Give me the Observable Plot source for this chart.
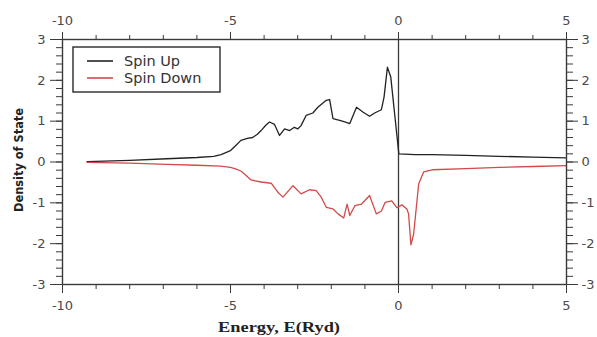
<!DOCTYPE html>
<html>
<head>
<meta charset="utf-8">
<script src="https://cdn.jsdelivr.net/npm/d3@7"></script>
<script src="https://cdn.jsdelivr.net/npm/@observablehq/plot@0.6"></script>
<style>
  html, body { margin: 0; padding: 0; background: #fff; }
  #chart svg { display: block; }
</style>
</head>
<body>
<div id="chart"></div>
<script>
// ---- data ----
const energyUp = [-9.27, -8.0, -6.9, -6.0, -5.5, -5.28, -5.0, -4.85, -4.69, -4.5, -4.34, -4.2, -4.09, -3.95, -3.84, -3.69, -3.54, -3.39, -3.24, -3.10, -3.00, -2.90, -2.75, -2.55, -2.40, -2.15, -2.05, -1.95, -1.75, -1.60, -1.45, -1.25, -1.05, -0.86, -0.71, -0.51, -0.43, -0.33, -0.23, 0.01, 0.5, 1.0, 2.0, 3.0, 4.0, 5.0];
const dosUp    = [0.01, 0.04, 0.08, 0.11, 0.14, 0.18, 0.28, 0.40, 0.53, 0.58, 0.60, 0.68, 0.77, 0.90, 0.98, 0.92, 0.65, 0.81, 0.77, 0.85, 0.81, 0.89, 1.14, 1.20, 1.34, 1.51, 1.53, 1.06, 1.02, 0.98, 0.94, 1.34, 1.22, 1.12, 1.20, 1.28, 1.59, 2.32, 2.08, 0.20, 0.18, 0.18, 0.16, 0.14, 0.12, 0.10];

const energyDown = [-9.27, -8.0, -6.9, -6.0, -5.3, -5.0, -4.85, -4.69, -4.55, -4.39, -4.09, -3.79, -3.59, -3.44, -3.14, -2.90, -2.65, -2.45, -2.30, -2.15, -1.95, -1.80, -1.63, -1.53, -1.45, -1.30, -1.10, -0.86, -0.66, -0.51, -0.40, -0.20, -0.05, 0.10, 0.25, 0.30, 0.37, 0.45, 0.60, 0.75, 1.0, 2.0, 3.0, 4.0, 5.0];
const dosDown    = [-0.01, -0.03, -0.06, -0.08, -0.10, -0.13, -0.17, -0.22, -0.32, -0.44, -0.49, -0.52, -0.74, -0.86, -0.58, -0.78, -0.68, -0.70, -0.86, -1.11, -1.15, -1.27, -1.37, -1.03, -1.31, -1.07, -1.03, -0.82, -1.27, -1.20, -0.99, -0.95, -1.12, -1.05, -1.15, -1.27, -2.03, -1.77, -0.54, -0.24, -0.19, -0.16, -0.13, -0.11, -0.09];

const seriesNames = ["Spin Up", "Spin Down"];
const seriesColors = ["#222222", "#d24a4a"];

const xMajorTicks = [-10, -5, 0, 5];
const xMinorTicks = [-10, -9, -8, -7, -6, -5, -4, -3, -2, -1, 0, 1, 2, 3, 4, 5];
const yMajorTicks = [-3, -2, -1, 0, 1, 2, 3];
const yMinorTicks = d3.range(-30, 31, 2).map(d => d / 10);

const xTitle = "Energy, E(Ryd)";
const yTitle = "Density of State";

// ---- table ----
const rows = [
  ...energyUp.map((e, i) => ({series: seriesNames[0], energy: e, dos: dosUp[i]})),
  ...energyDown.map((e, i) => ({series: seriesNames[1], energy: e, dos: dosDown[i]}))
];

const fmt = d => String(d);
const blank = () => "";
const axisColor = "#3a3a3a";

const chart = Plot.plot({
  width: 597,
  height: 337,
  marginLeft: 62,
  marginRight: 31,
  marginTop: 39,
  marginBottom: 53,
  style: {fontFamily: "DejaVu Sans", fontSize: "13px", color: "#4a4a4a", background: "#fff"},
  x: {domain: [-10, 5]},
  y: {domain: [-3, 3]},
  color: {domain: seriesNames, range: seriesColors},
  marks: [
    Plot.ruleX([0], {stroke: axisColor, strokeWidth: 1.3}),
    Plot.line(rows, {x: "energy", y: "dos", z: "series", stroke: "series", strokeWidth: 1.3}),
    // minor ticks
    Plot.axisX({anchor: "bottom", ticks: xMinorTicks, tickSize: 5, tickFormat: blank, label: null, stroke: axisColor}),
    Plot.axisX({anchor: "top", ticks: xMinorTicks, tickSize: 5, tickFormat: blank, label: null, stroke: axisColor}),
    Plot.axisY({anchor: "left", ticks: yMinorTicks, tickSize: 6, tickFormat: blank, label: null, stroke: axisColor}),
    Plot.axisY({anchor: "right", ticks: yMinorTicks, tickSize: 6, tickFormat: blank, label: null, stroke: axisColor}),
    // major ticks + labels
    Plot.axisX({anchor: "bottom", ticks: xMajorTicks, tickSize: 9, tickPadding: 7, tickFormat: fmt, label: null, stroke: axisColor, letterSpacing: "1.5px"}),
    Plot.axisX({anchor: "top", ticks: xMajorTicks, tickSize: 8, tickPadding: 7, tickFormat: fmt, label: null, stroke: axisColor, letterSpacing: "1.5px"}),
    Plot.axisY({anchor: "left", ticks: yMajorTicks, tickSize: 12, tickPadding: 5, tickFormat: fmt, label: null, stroke: axisColor, letterSpacing: "1.5px"}),
    Plot.axisY({anchor: "right", ticks: yMajorTicks, tickSize: 11, tickPadding: 4, tickFormat: fmt, label: null, stroke: axisColor, letterSpacing: "1.5px"}),
    Plot.frame({stroke: axisColor, strokeWidth: 1.4})
  ]
});

document.getElementById("chart").appendChild(chart);

// ---- titles & legend (drawn into the same svg) ----
const svg = d3.select(chart);

svg.append("text")
  .attr("x", 218).attr("y", 332)
  .attr("text-anchor", "start")
  .attr("textLength", 122).attr("lengthAdjust", "spacingAndGlyphs")
  .attr("font-family", "Liberation Serif")
  .attr("font-weight", "bold")
  .attr("font-size", 15)
  .attr("fill", "#222")
  .text(xTitle);

svg.append("text")
  .attr("transform", "translate(23,212) rotate(-90)")
  .attr("text-anchor", "start")
  .attr("textLength", 104).attr("lengthAdjust", "spacingAndGlyphs")
  .attr("font-family", "DejaVu Sans")
  .attr("font-weight", "bold")
  .attr("font-size", 13)
  .attr("fill", "#222")
  .text(yTitle);

const lg = svg.append("g").attr("transform", "translate(73,47)");
lg.append("rect").attr("width", 147).attr("height", 45)
  .attr("fill", "#fff").attr("stroke", "#2a2a2a").attr("stroke-width", 1.4);
seriesNames.forEach((name, i) => {
  const yy = 14 + i * 17;
  lg.append("line").attr("x1", 14).attr("x2", 40).attr("y1", yy).attr("y2", yy)
    .attr("stroke", seriesColors[i]).attr("stroke-width", 1.6);
  lg.append("text").attr("x", 51).attr("y", yy).attr("dy", "0.36em")
    .attr("text-anchor", "start")
    .attr("font-family", "DejaVu Sans").attr("font-size", 14.5).attr("fill", "#333")
    .text(name);
});
</script>
</body>
</html>
